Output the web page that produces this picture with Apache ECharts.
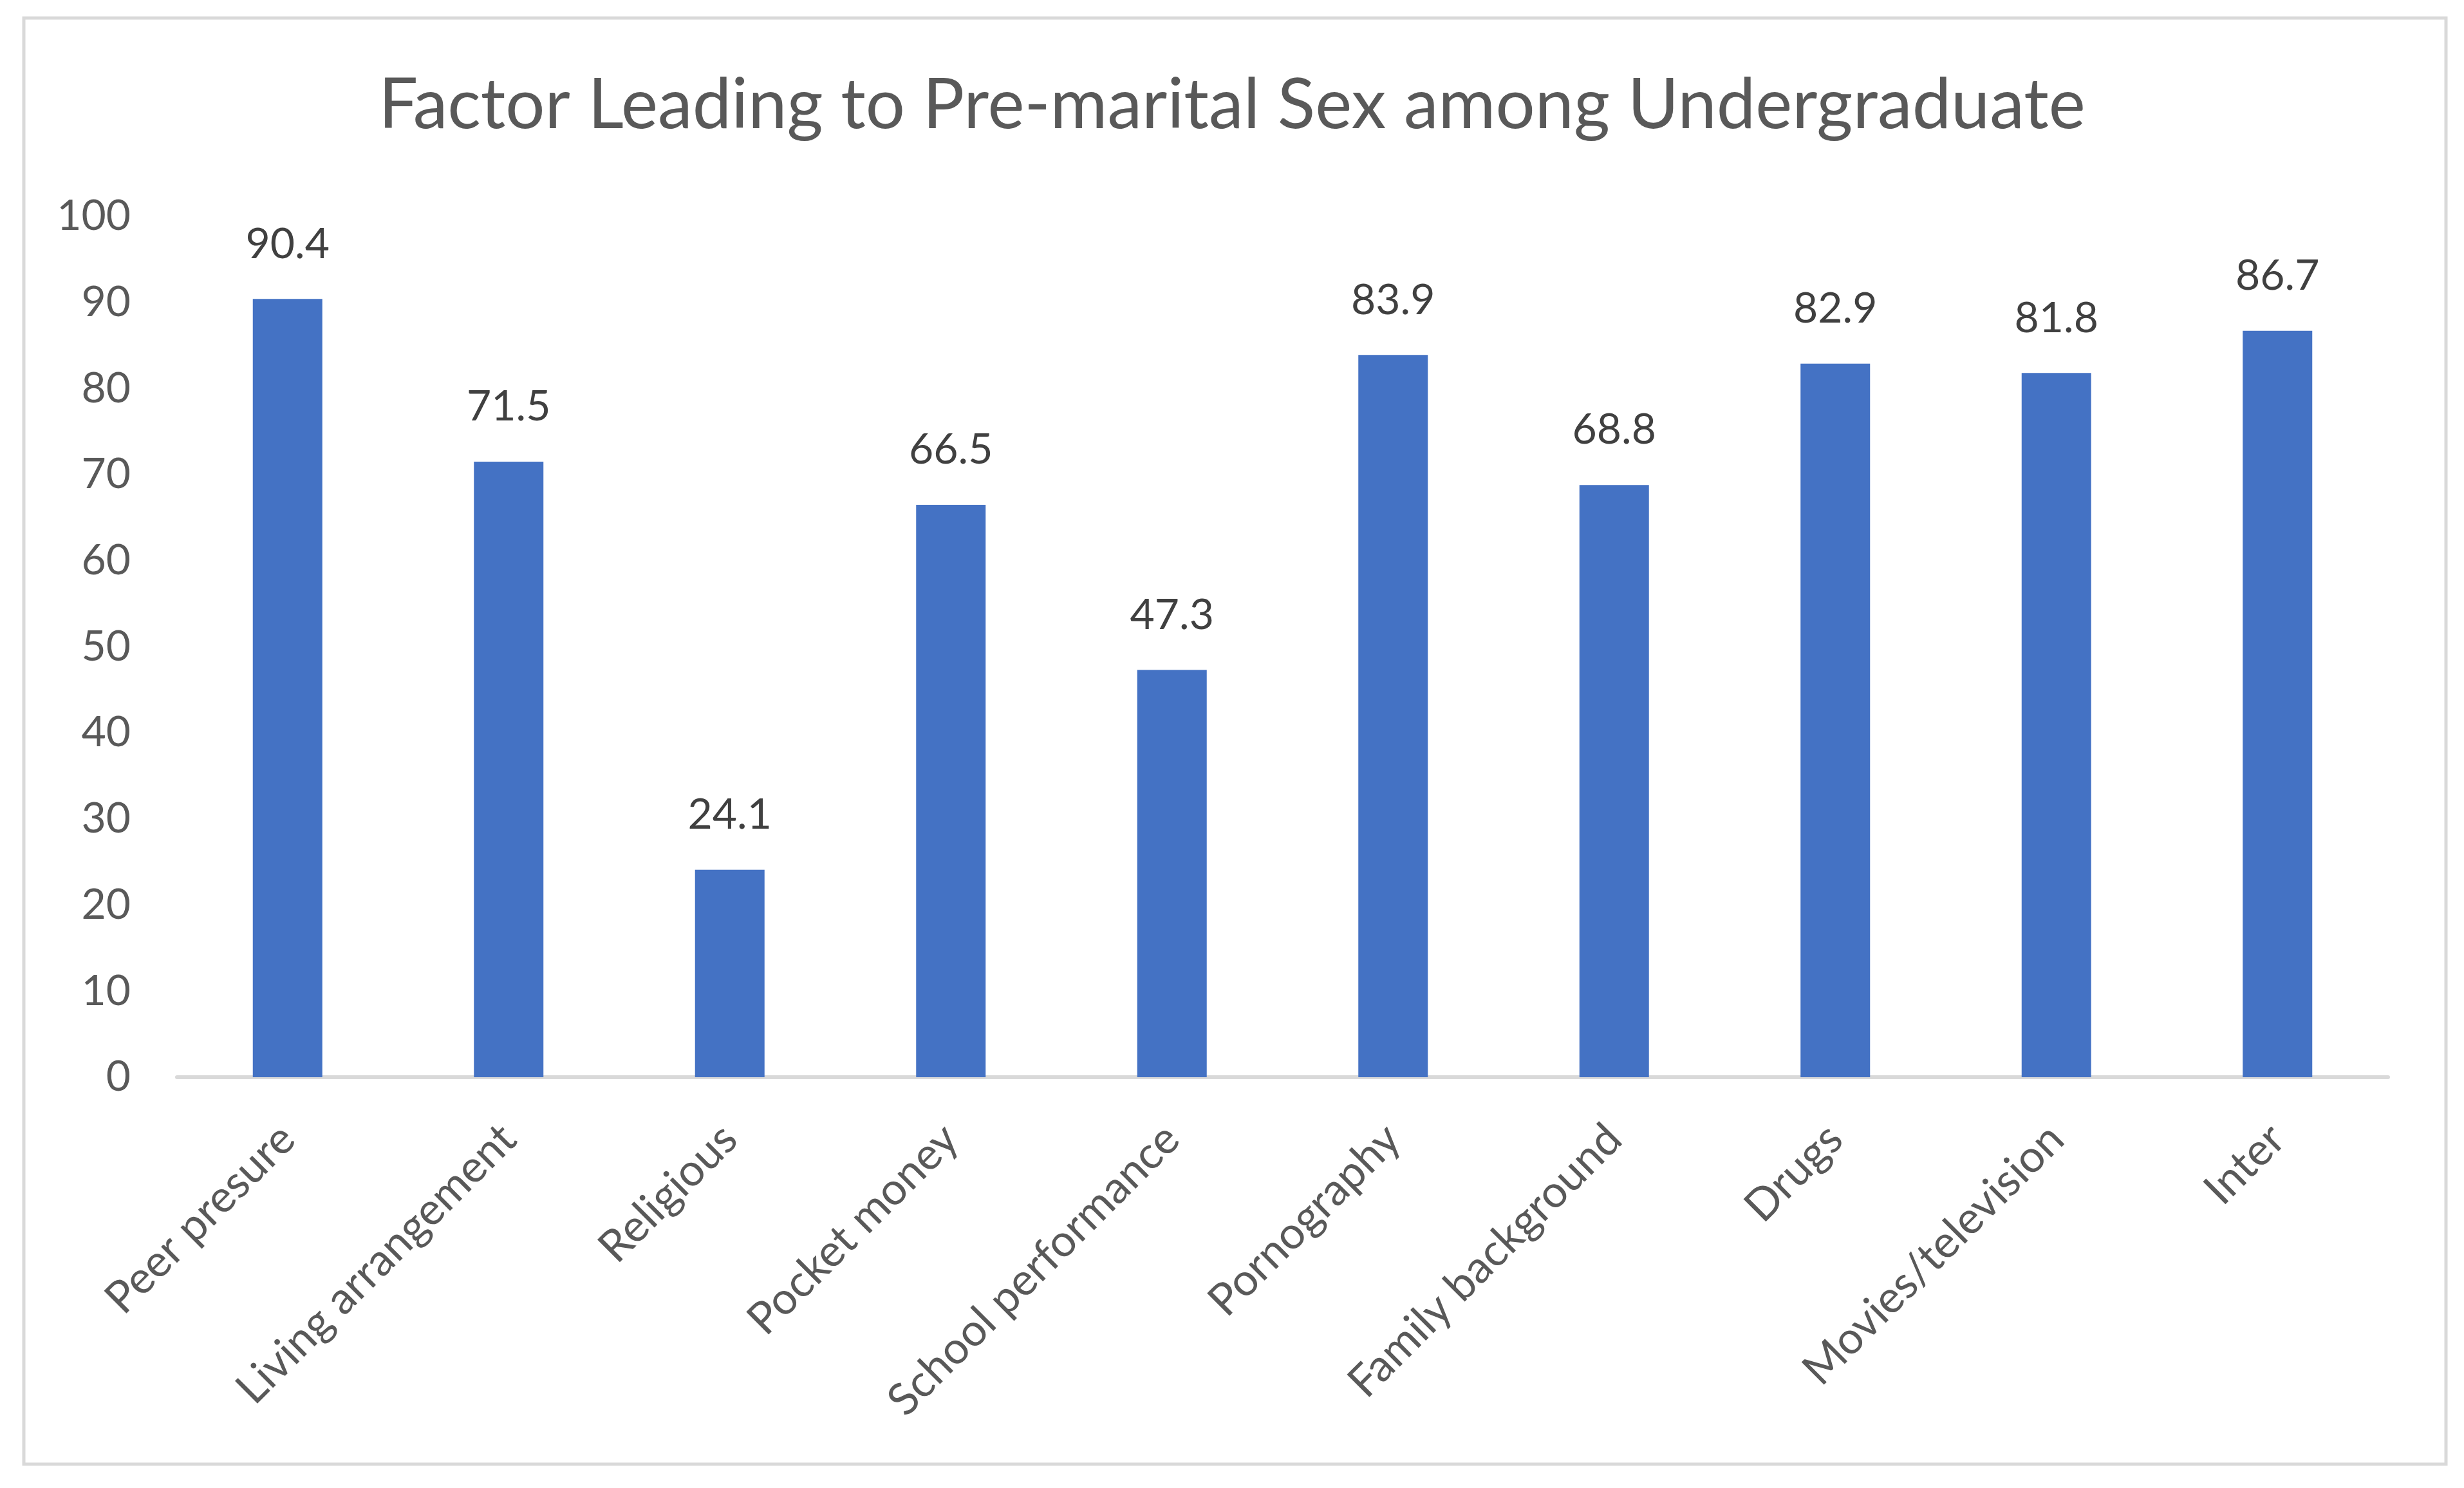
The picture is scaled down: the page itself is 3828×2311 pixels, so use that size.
<!DOCTYPE html>
<html><head><meta charset="utf-8">
<script src="https://cdn.jsdelivr.net/npm/echarts@6/dist/echarts.min.js"></script>
<style>html,body{margin:0;padding:0;background:#fff}#c{width:3828px;height:2311px}</style>
</head><body><div id="c"></div>
<script>
const categories = ["Peer presure","Living arrangement","Religious","Pocket money","School performance","Pornography","Family background","Drugs","Movies/television","Inter"];
const values = [90.4,71.5,24.1,66.5,47.3,83.9,68.8,82.9,81.8,86.7];
const titleText = "Factor Leading to Pre-marital Sex among Undergraduate";

const chart = echarts.init(document.getElementById('c'));
const textColor = '#595959';
const font = 'Lato, "Open Sans", sans-serif';
chart.setOption({
  backgroundColor: '#fff',
  animation: false,
  graphic: [{
    type: 'rect', shape: {x: 37, y: 28, width: 3763, height: 2246},
    style: {fill: 'none', stroke: '#d9d9d9', lineWidth: 5}, z: -1
  }],
  title: {
    text: titleText, left: 'center', top: 105,
    textStyle: {color: textColor, fontFamily: font, fontWeight: 'normal', fontSize: 108}
  },
  grid: {left: 275, right: 118, top: 336, bottom: 638, containLabel: false},
  xAxis: {
    type: 'category', data: categories,
    axisLine: {lineStyle: {color: '#d9d9d9', width: 6}},
    axisTick: {show: false},
    axisLabel: {rotate: 45, color: textColor, fontFamily: font, fontSize: 69, margin: 85, interval: 0}
  },
  yAxis: {
    type: 'value', min: 0, max: 100, interval: 10,
    axisLine: {show: false}, axisTick: {show: false},
    splitLine: {show: false},
    axisLabel: {color: textColor, fontFamily: font, fontSize: 66, margin: 72}
  },
  series: [{
    type: 'bar', data: values, barWidth: 108,
    itemStyle: {color: '#4472c4'},
    label: {show: true, position: 'top', distance: 52, color: '#404040', fontFamily: font, fontSize: 66}
  }]
});
</script></body></html>
